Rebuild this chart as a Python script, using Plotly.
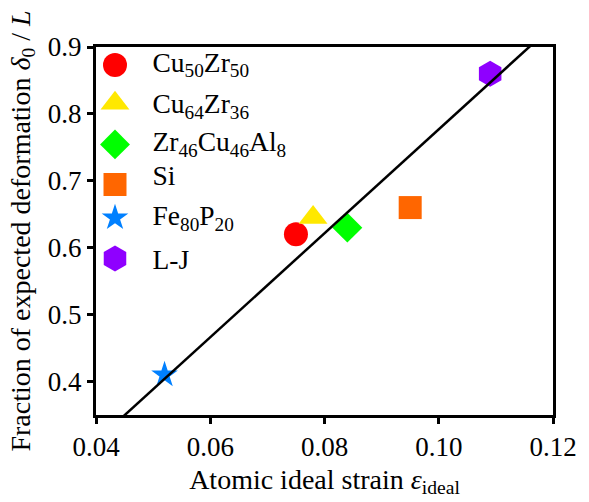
import plotly.graph_objects as go

# Measured samples: atomic ideal strain vs. fraction of expected deformation
sample_names = [
    "Cu<sub>50</sub>Zr<sub>50</sub>",
    "Cu<sub>64</sub>Zr<sub>36</sub>",
    "Zr<sub>46</sub>Cu<sub>46</sub>Al<sub>8</sub>",
    "Si",
    "Fe<sub>80</sub>P<sub>20</sub>",
    "L-J",
]
ideal_strain = [0.075, 0.078, 0.084, 0.095, 0.052, 0.109]
deform_fraction = [0.62, 0.645, 0.63, 0.66, 0.41, 0.86]

# Linear fit through the origin
fit_slope = 7.77
fit_x = [0.04, 0.12]
fit_y = [fit_slope * v for v in fit_x]

x_ticks = [0.04, 0.06, 0.08, 0.10, 0.12]
y_ticks = [0.4, 0.5, 0.6, 0.7, 0.8, 0.9]

# Marker styling per sample
symbols = ["circle", "triangle-up", "diamond", "square", "star", "hexagon"]
colors = ["#ff0000", "#ffe800", "#00ff00", "#ff6600", "#0080ff", "#8f00ff"]
sizes = [24, 25, 23, 23, 20, 26]

FONT = "Liberation Serif"
FS_TICK = 27
FS_TITLE = 28
FS_LEG = 27.5

# Plot area in pixels
W, H = 589, 502
L, R, T, B = 96, 24, 47, 79
plot_left, plot_right = L, W - R
plot_top, plot_bottom = T, H - B

# Legend layout (pixel coordinates inside the figure)
leg_marker_x = 115.5
leg_marker_y = [65.5, 104.5, 146.5, 187.5, 221.5, 263.0]
leg_text_x = 154
leg_text_y = [65.0, 107.5, 146.0, 180.5, 222.0, 267.0]

fig = go.Figure()

for name, xv, yv, sym, col, sz in zip(sample_names, ideal_strain, deform_fraction,
                                        symbols, colors, sizes):
    fig.add_trace(go.Scatter(
        x=[xv], y=[yv], mode="markers", name=name,
        marker=dict(symbol=sym, color=col, size=sz, opacity=1, line=dict(width=0)),
        showlegend=False, cliponaxis=False,
    ))

fig.add_trace(go.Scatter(
    x=fit_x, y=fit_y, mode="lines",
    line=dict(color="black", width=2.5),
    showlegend=False,
))

# Hand-built legend on a pixel-scaled overlay axis pair
fig.add_trace(go.Scatter(
    x=[leg_marker_x] * len(sample_names), y=leg_marker_y,
    xaxis="x2", yaxis="y2", mode="markers",
    marker=dict(symbol=symbols, color=colors, size=sizes, opacity=1,
                line=dict(width=0)),
    showlegend=False, cliponaxis=False, hoverinfo="skip",
))
fig.add_trace(go.Scatter(
    x=[leg_text_x] * len(sample_names), y=leg_text_y,
    xaxis="x2", yaxis="y2", mode="text",
    text=sample_names, textposition="middle right",
    textfont=dict(family=FONT, size=FS_LEG, color="black"),
    showlegend=False, cliponaxis=False, hoverinfo="skip",
))

axis_common = dict(
    showline=True, linecolor="black", linewidth=3, mirror=True,
    ticks="outside", ticklen=6, tickwidth=2.5, tickcolor="black",
    showgrid=False, zeroline=False,
    tickfont=dict(family=FONT, size=FS_TICK, color="black"),
)

fig.update_layout(
    width=W, height=H,
    margin=dict(l=L, r=R, t=T, b=B),
    plot_bgcolor="white", paper_bgcolor="white",
    font=dict(family=FONT, size=FS_TICK, color="black"),
    xaxis=dict(
        range=[0.04, 0.12], tickvals=x_ticks, tickformat=".2f",
        title=dict(text="Atomic ideal strain <i>ε</i><sub>ideal</sub>",
                   font=dict(family=FONT, size=FS_TITLE), standoff=8),
        **axis_common,
    ),
    yaxis=dict(
        range=[0.35, 0.9], tickvals=y_ticks, tickformat=".1f",
        title=dict(text="Fraction of expected deformation <i>δ</i><sub>0</sub> / <i>L</i>",
                   font=dict(family=FONT, size=FS_TITLE), standoff=10),
        **axis_common,
    ),
    xaxis2=dict(range=[plot_left, plot_right], overlaying="x", anchor="y2",
                visible=False, fixedrange=True),
    yaxis2=dict(range=[plot_bottom, plot_top], overlaying="y", anchor="x2",
                visible=False, fixedrange=True),
)

fig.write_html("out.html")
